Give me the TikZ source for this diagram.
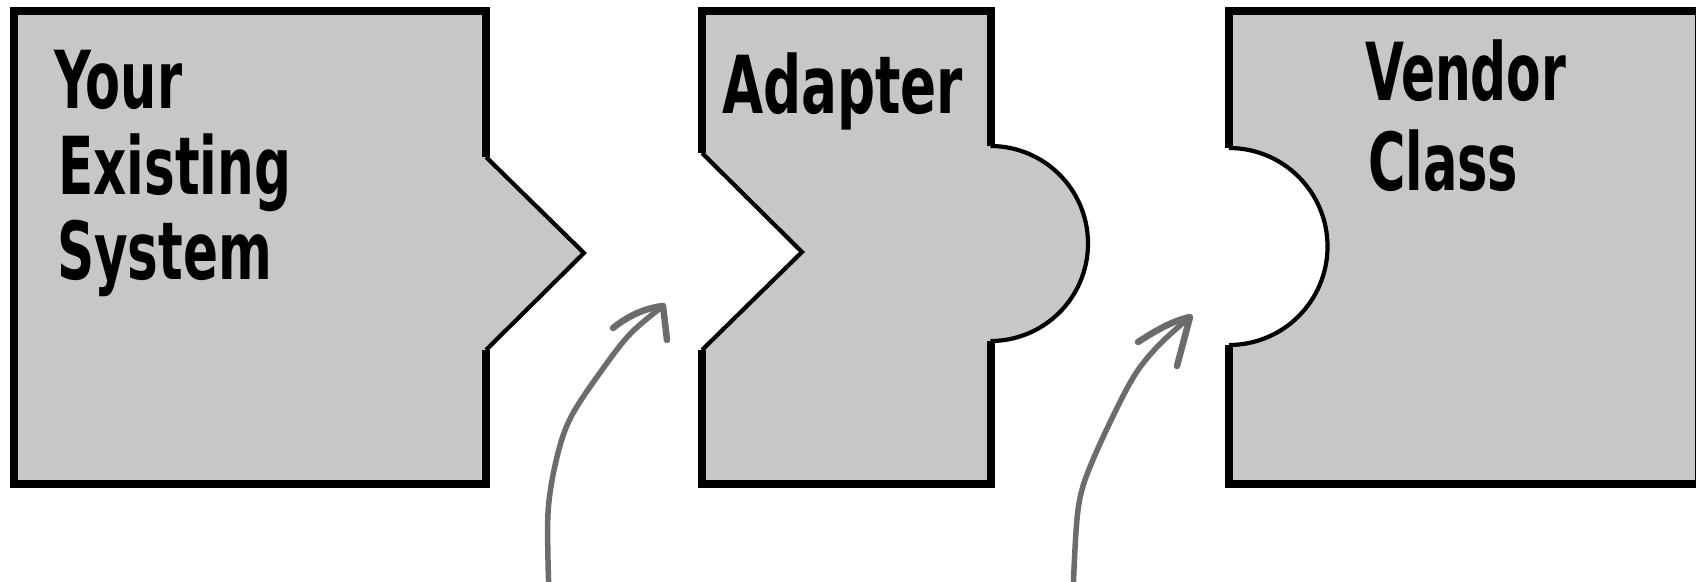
\documentclass[tikz,border=0pt]{standalone}
\usepackage{fontspec}
\usepackage{graphicx}
\newfontfamily\hf{DejaVu Sans Condensed}
\definecolor{piece}{RGB}{199,199,199}
\definecolor{arrowgray}{RGB}{108,108,108}
\newcommand\hfline[2]{\resizebox{#1pt}{\height}{#2}}
\tikzset{
 piecefill/.style={fill=piece, draw=none},
 thickedge/.style={draw=black, line width=8pt, line join=miter},
 thinedge/.style={draw=black, line width=4.2pt, line join=miter},
 piecetext/.style={anchor=base west, inner sep=0pt, font=\hf\bfseries\fontsize{80}{80}\selectfont},
 pointer/.style={draw=arrowgray, line width=5.5pt, line cap=round, line join=round},
 barb/.style={draw=arrowgray, line width=6.5pt, line cap=round, line join=round},
}
\begin{document}
\begin{tikzpicture}[x=1pt,y=-1pt]
\useasboundingbox (0,0) rectangle (1696,581);
\clip (0,0) rectangle (1696,581);
% ---- piece 1: Your Existing System
\fill[piecefill] (14,11) -- (486,11) -- (486,157) -- (584,253) -- (486,350) -- (486,483.5) -- (14,483.5) -- cycle;
\draw[thickedge] (486,157) -- (486,11) -- (14,11) -- (14,483.5) -- (486,483.5) -- (486,350);
\draw[thinedge] (486,157) -- (584,253) -- (486,350);
% ---- piece 2: Adapter
\fill[piecefill] (702,11) -- (990.5,11) -- (990.5,146) arc[start angle=90, end angle=-90, radius=97.5pt] -- (990.5,483.5) -- (702,483.5) -- (702,350) -- (802,252) -- (702,153) -- cycle;
\draw[thickedge] (702,153) -- (702,11) -- (990.5,11) -- (990.5,146);
\draw[thickedge] (990.5,341) -- (990.5,483.5) -- (702,483.5) -- (702,350);
\draw[thinedge] (990.5,146) arc[start angle=90, end angle=-90, radius=97.5pt];
\draw[thinedge] (702,153) -- (802,252) -- (702,350);
% ---- piece 3: Vendor Class
\fill[piecefill] (1229,11) -- (1699,11) -- (1699,483.5) -- (1229,483.5) -- (1229,345) arc[start angle=-90, end angle=90, radius=98.5pt] -- cycle;
\draw[thickedge] (1229,148) -- (1229,11) -- (1699,11) -- (1699,483.5) -- (1229,483.5) -- (1229,345);
\draw[thinedge] (1229,345) arc[start angle=-90, end angle=90, radius=98.5pt];
% ---- texts
\node[piecetext] (t1) at (54,108) {\hfline{128}{Your}};
\node[piecetext] (t2) at (58,194) {\hfline{233}{Existing}};
\node[piecetext] (t3) at (57,279) {\hfline{215}{System}};
\node[piecetext] (t4) at (722,113) {\hfline{241}{Adapter}};
\node[piecetext] (t5) at (1365,100) {\hfline{201}{Vendor}};
\node[piecetext] (t6) at (1368,190) {\hfline{150}{Class}};
% ---- arrows
\coordinate (a1s) at (549,595);
\coordinate (a1t) at (663,306);
\coordinate (a2s) at (1073,595);
\coordinate (a2t) at (1190,317);
\draw[pointer] plot[smooth, tension=0.55] coordinates {(a1s) (548,513) (557,457) (572,415) (607,363) (632,332) (a1t)};
\draw[barb] (613,328) .. controls (628,316) and (645,308) .. (a1t) -- (667,340);
\draw[pointer] plot[smooth, tension=0.55] coordinates {(a2s) (1078,510) (1092,462) (1130,383) (1157,347) (a2t)};
\draw[barb] (1138,342) .. controls (1155,331) and (1172,321) .. (a2t) -- (1177,366);
\end{tikzpicture}
\end{document}
